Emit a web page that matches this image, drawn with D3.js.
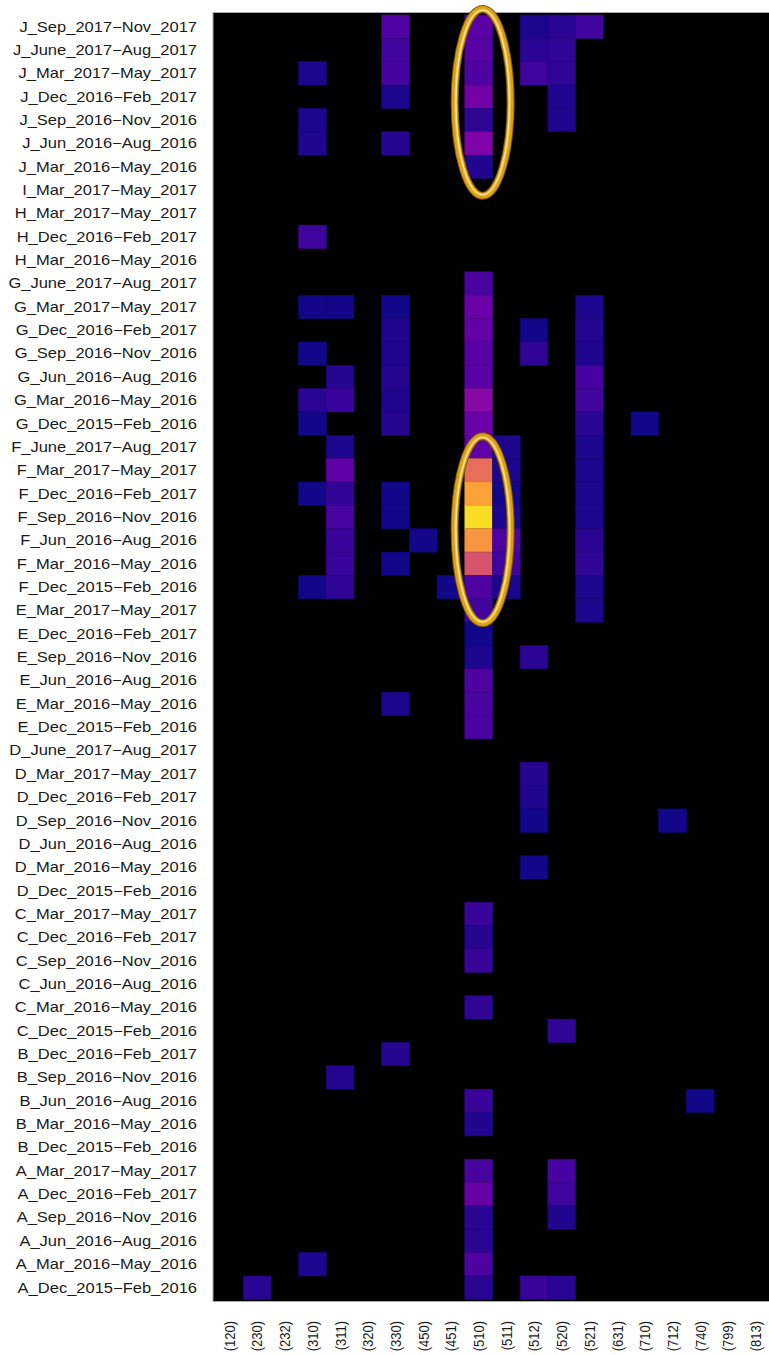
<!DOCTYPE html>
<html>
<head>
<meta charset="utf-8">
<script src="https://cdn.jsdelivr.net/npm/d3@7"></script>
<style>
  html, body { margin: 0; padding: 0; background: #fff; }
  svg { display: block; }
  text { font-family: "Liberation Sans", Arial, Helvetica, sans-serif; fill: #1a1a1a; }
</style>
</head>
<body>
<div id="chart"></div>
<script>
const rowLabels = [
  'J_Sep_2017−Nov_2017', 'J_June_2017−Aug_2017', 'J_Mar_2017−May_2017', 'J_Dec_2016−Feb_2017',
  'J_Sep_2016−Nov_2016', 'J_Jun_2016−Aug_2016', 'J_Mar_2016−May_2016', 'I_Mar_2017−May_2017',
  'H_Mar_2017−May_2017', 'H_Dec_2016−Feb_2017', 'H_Mar_2016−May_2016', 'G_June_2017−Aug_2017',
  'G_Mar_2017−May_2017', 'G_Dec_2016−Feb_2017', 'G_Sep_2016−Nov_2016', 'G_Jun_2016−Aug_2016',
  'G_Mar_2016−May_2016', 'G_Dec_2015−Feb_2016', 'F_June_2017−Aug_2017', 'F_Mar_2017−May_2017',
  'F_Dec_2016−Feb_2017', 'F_Sep_2016−Nov_2016', 'F_Jun_2016−Aug_2016', 'F_Mar_2016−May_2016',
  'F_Dec_2015−Feb_2016', 'E_Mar_2017−May_2017', 'E_Dec_2016−Feb_2017', 'E_Sep_2016−Nov_2016',
  'E_Jun_2016−Aug_2016', 'E_Mar_2016−May_2016', 'E_Dec_2015−Feb_2016', 'D_June_2017−Aug_2017',
  'D_Mar_2017−May_2017', 'D_Dec_2016−Feb_2017', 'D_Sep_2016−Nov_2016', 'D_Jun_2016−Aug_2016',
  'D_Mar_2016−May_2016', 'D_Dec_2015−Feb_2016', 'C_Mar_2017−May_2017', 'C_Dec_2016−Feb_2017',
  'C_Sep_2016−Nov_2016', 'C_Jun_2016−Aug_2016', 'C_Mar_2016−May_2016', 'C_Dec_2015−Feb_2016',
  'B_Dec_2016−Feb_2017', 'B_Sep_2016−Nov_2016', 'B_Jun_2016−Aug_2016', 'B_Mar_2016−May_2016',
  'B_Dec_2015−Feb_2016', 'A_Mar_2017−May_2017', 'A_Dec_2016−Feb_2017', 'A_Sep_2016−Nov_2016',
  'A_Jun_2016−Aug_2016', 'A_Mar_2016−May_2016', 'A_Dec_2015−Feb_2016',
];

const colLabels = [
  '(120)', '(230)', '(232)', '(310)', '(311)', '(320)', '(330)', '(450)', '(451)', '(510)',
  '(511)', '(512)', '(520)', '(521)', '(631)', '(710)', '(712)', '(740)', '(799)', '(813)',
];

// one row per rowLabel, one value per colLabel (0 = empty cell)
const values = [
  [0, 0, 0, 0, 0, 0, 14, 0, 0, 16, 0, 2, 5, 10, 0, 0, 0, 0, 0, 0],
  [0, 0, 0, 0, 0, 0, 10, 0, 0, 15, 0, 5, 6, 0, 0, 0, 0, 0, 0, 0],
  [0, 0, 0, 2, 0, 0, 11, 0, 0, 13, 0, 9, 6, 0, 0, 0, 0, 0, 0, 0],
  [0, 0, 0, 0, 0, 0, 2, 0, 0, 22, 0, 0, 3, 0, 0, 0, 0, 0, 0, 0],
  [0, 0, 0, 2, 0, 0, 0, 0, 0, 6, 0, 0, 3, 0, 0, 0, 0, 0, 0, 0],
  [0, 0, 0, 3, 0, 0, 4, 0, 0, 25, 0, 0, 0, 0, 0, 0, 0, 0, 0, 0],
  [0, 0, 0, 0, 0, 0, 0, 0, 0, 3, 0, 0, 0, 0, 0, 0, 0, 0, 0, 0],
  [0, 0, 0, 0, 0, 0, 0, 0, 0, 0, 0, 0, 0, 0, 0, 0, 0, 0, 0, 0],
  [0, 0, 0, 0, 0, 0, 0, 0, 0, 0, 0, 0, 0, 0, 0, 0, 0, 0, 0, 0],
  [0, 0, 0, 9, 0, 0, 0, 0, 0, 0, 0, 0, 0, 0, 0, 0, 0, 0, 0, 0],
  [0, 0, 0, 0, 0, 0, 0, 0, 0, 0, 0, 0, 0, 0, 0, 0, 0, 0, 0, 0],
  [0, 0, 0, 0, 0, 0, 0, 0, 0, 12, 0, 0, 0, 0, 0, 0, 0, 0, 0, 0],
  [0, 0, 0, 1, 1, 0, 1, 0, 0, 20, 0, 0, 0, 2, 0, 0, 0, 0, 0, 0],
  [0, 0, 0, 0, 0, 0, 3, 0, 0, 18, 0, 1, 0, 4, 0, 0, 0, 0, 0, 0],
  [0, 0, 0, 1, 0, 0, 3, 0, 0, 15, 0, 6, 0, 3, 0, 0, 0, 0, 0, 0],
  [0, 0, 0, 0, 4, 0, 4, 0, 0, 16, 0, 0, 0, 11, 0, 0, 0, 0, 0, 0],
  [0, 0, 0, 5, 8, 0, 3, 0, 0, 28, 0, 0, 0, 10, 0, 0, 0, 0, 0, 0],
  [0, 0, 0, 1, 0, 0, 4, 0, 0, 20, 0, 0, 0, 5, 0, 1, 0, 0, 0, 0],
  [0, 0, 0, 0, 2, 0, 0, 0, 0, 17, 2, 0, 0, 2, 0, 0, 0, 0, 0, 0],
  [0, 0, 0, 0, 17, 0, 0, 0, 0, 63, 2, 0, 0, 2, 0, 0, 0, 0, 0, 0],
  [0, 0, 0, 1, 7, 0, 1, 0, 0, 79, 1, 0, 0, 2, 0, 0, 0, 0, 0, 0],
  [0, 0, 0, 0, 12, 0, 1, 0, 0, 93, 2, 0, 0, 2, 0, 0, 0, 0, 0, 0],
  [0, 0, 0, 0, 8, 0, 0, 1, 0, 75, 13, 0, 0, 5, 0, 0, 0, 0, 0, 0],
  [0, 0, 0, 0, 8, 0, 1, 0, 0, 55, 10, 0, 0, 6, 0, 0, 0, 0, 0, 0],
  [0, 0, 0, 1, 6, 0, 0, 0, 1, 13, 2, 0, 0, 2, 0, 0, 0, 0, 0, 0],
  [0, 0, 0, 0, 0, 0, 0, 0, 0, 10, 0, 0, 0, 2, 0, 0, 0, 0, 0, 0],
  [0, 0, 0, 0, 0, 0, 0, 0, 0, 1, 0, 0, 0, 0, 0, 0, 0, 0, 0, 0],
  [0, 0, 0, 0, 0, 0, 0, 0, 0, 2, 0, 5, 0, 0, 0, 0, 0, 0, 0, 0],
  [0, 0, 0, 0, 0, 0, 0, 0, 0, 13, 0, 0, 0, 0, 0, 0, 0, 0, 0, 0],
  [0, 0, 0, 0, 0, 0, 2, 0, 0, 12, 0, 0, 0, 0, 0, 0, 0, 0, 0, 0],
  [0, 0, 0, 0, 0, 0, 0, 0, 0, 12, 0, 0, 0, 0, 0, 0, 0, 0, 0, 0],
  [0, 0, 0, 0, 0, 0, 0, 0, 0, 0, 0, 0, 0, 0, 0, 0, 0, 0, 0, 0],
  [0, 0, 0, 0, 0, 0, 0, 0, 0, 0, 0, 4, 0, 0, 0, 0, 0, 0, 0, 0],
  [0, 0, 0, 0, 0, 0, 0, 0, 0, 0, 0, 3, 0, 0, 0, 0, 0, 0, 0, 0],
  [0, 0, 0, 0, 0, 0, 0, 0, 0, 0, 0, 1, 0, 0, 0, 0, 1, 0, 0, 0],
  [0, 0, 0, 0, 0, 0, 0, 0, 0, 0, 0, 0, 0, 0, 0, 0, 0, 0, 0, 0],
  [0, 0, 0, 0, 0, 0, 0, 0, 0, 0, 0, 1, 0, 0, 0, 0, 0, 0, 0, 0],
  [0, 0, 0, 0, 0, 0, 0, 0, 0, 0, 0, 0, 0, 0, 0, 0, 0, 0, 0, 0],
  [0, 0, 0, 0, 0, 0, 0, 0, 0, 8, 0, 0, 0, 0, 0, 0, 0, 0, 0, 0],
  [0, 0, 0, 0, 0, 0, 0, 0, 0, 4, 0, 0, 0, 0, 0, 0, 0, 0, 0, 0],
  [0, 0, 0, 0, 0, 0, 0, 0, 0, 8, 0, 0, 0, 0, 0, 0, 0, 0, 0, 0],
  [0, 0, 0, 0, 0, 0, 0, 0, 0, 0, 0, 0, 0, 0, 0, 0, 0, 0, 0, 0],
  [0, 0, 0, 0, 0, 0, 0, 0, 0, 6, 0, 0, 0, 0, 0, 0, 0, 0, 0, 0],
  [0, 0, 0, 0, 0, 0, 0, 0, 0, 0, 0, 0, 6, 0, 0, 0, 0, 0, 0, 0],
  [0, 0, 0, 0, 0, 0, 4, 0, 0, 0, 0, 0, 0, 0, 0, 0, 0, 0, 0, 0],
  [0, 0, 0, 0, 4, 0, 0, 0, 0, 0, 0, 0, 0, 0, 0, 0, 0, 0, 0, 0],
  [0, 0, 0, 0, 0, 0, 0, 0, 0, 8, 0, 0, 0, 0, 0, 0, 0, 1, 0, 0],
  [0, 0, 0, 0, 0, 0, 0, 0, 0, 3, 0, 0, 0, 0, 0, 0, 0, 0, 0, 0],
  [0, 0, 0, 0, 0, 0, 0, 0, 0, 0, 0, 0, 0, 0, 0, 0, 0, 0, 0, 0],
  [0, 0, 0, 0, 0, 0, 0, 0, 0, 11, 0, 0, 11, 0, 0, 0, 0, 0, 0, 0],
  [0, 0, 0, 0, 0, 0, 0, 0, 0, 19, 0, 0, 9, 0, 0, 0, 0, 0, 0, 0],
  [0, 0, 0, 0, 0, 0, 0, 0, 0, 5, 0, 0, 3, 0, 0, 0, 0, 0, 0, 0],
  [0, 0, 0, 0, 0, 0, 0, 0, 0, 5, 0, 0, 0, 0, 0, 0, 0, 0, 0, 0],
  [0, 0, 0, 2, 0, 0, 0, 0, 0, 13, 0, 0, 0, 0, 0, 0, 0, 0, 0, 0],
  [0, 5, 0, 0, 0, 0, 0, 0, 0, 5, 0, 8, 5, 0, 0, 0, 0, 0, 0, 0],
];

// rings drawn round the interesting blocks
const highlights = [
  { col: '(510)', from: 'J_Sep_2017−Nov_2017', to: 'I_Mar_2017−May_2017', dy: -6 },
  { col: '(510)', from: 'F_June_2017−Aug_2017', to: 'E_Mar_2017−May_2017', dy: 1 },
];

const width = 769;
const height = 1355;
const cellArea = { left: 215.5, right: 769.5, top: 15, bottom: 1299.3 };
const stretch = 1.18; // glyphs in the source are a little wider than tall

const svg = d3
  .select('#chart')
  .append('svg')
  .attr('width', width)
  .attr('height', height);

svg.append('rect').attr('width', width).attr('height', height).attr('fill', '#fff');

const x = d3
  .scaleBand()
  .domain(colLabels)
  .range([cellArea.left, cellArea.right]);

const y = d3
  .scaleBand()
  .domain(rowLabels)
  .range([cellArea.top, cellArea.bottom]);

const color = d3.scaleSequential(d3.interpolatePlasma).domain([0, 100]);

// panel
svg
  .append('rect')
  .attr('x', 213)
  .attr('y', 12.5)
  .attr('width', width - 213 + 2)
  .attr('height', 1289)
  .attr('fill', '#000')
  .attr('stroke', '#a8a8a8')
  .attr('stroke-width', 1);

// cells
const cells = [];
values.forEach((row, i) => {
  row.forEach((v, j) => {
    if (v > 0) cells.push({ row: rowLabels[i], col: colLabels[j], value: v });
  });
});

svg
  .append('g')
  .selectAll('rect')
  .data(cells)
  .enter()
  .append('rect')
  .attr('x', (d) => x(d.col))
  .attr('y', (d) => y(d.row))
  .attr('width', x.bandwidth())
  .attr('height', y.bandwidth())
  .attr('fill', (d) => color(d.value))
  .attr('stroke', (d) => d3.color(color(d.value)).darker(0.4))
  .attr('stroke-width', 0.6);

// row labels
svg
  .append('g')
  .selectAll('text')
  .data(rowLabels)
  .enter()
  .append('text')
  .attr('transform', (d) => `translate(197,${y(d) + y.bandwidth() / 2}) scale(${stretch},1)`)
  .attr('text-anchor', 'end')
  .attr('dy', '0.35em')
  .attr('font-size', 14)
  .text((d) => d);

// column labels, rotated
svg
  .append('g')
  .selectAll('text')
  .data(colLabels)
  .enter()
  .append('text')
  .attr(
    'transform',
    (d) => `translate(${x(d) + x.bandwidth() / 2},1321) scale(${stretch},1) rotate(-90)`,
  )
  .attr('text-anchor', 'end')
  .attr('dy', '0.35em')
  .attr('font-size', 13)
  .text((d) => d);

// golden rings
const rings = svg.append('g');
highlights.forEach((h) => {
  const cx = x(h.col) + x.bandwidth() / 2 + 4;
  const top = y(h.from);
  const bottom = y(h.to) + y.bandwidth();
  const cy = (top + bottom) / 2 + h.dy;
  const ry = (bottom - top) / 2;
  const rx = 28;
  const ring = rings.append('g');
  [
    { d: 0, w: 8, c: '#7d5706' },
    { d: 0, w: 6, c: '#d99f16' },
    { d: -0.8, w: 2.4, c: '#eec04a' },
    { d: -1.3, w: 0.9, c: '#fff1c2' },
  ].forEach((s) => {
    ring
      .append('ellipse')
      .attr('cx', cx)
      .attr('cy', cy)
      .attr('rx', rx + s.d)
      .attr('ry', ry + s.d)
      .attr('fill', 'none')
      .attr('stroke', s.c)
      .attr('stroke-width', s.w);
  });
});
</script>
</body>
</html>
